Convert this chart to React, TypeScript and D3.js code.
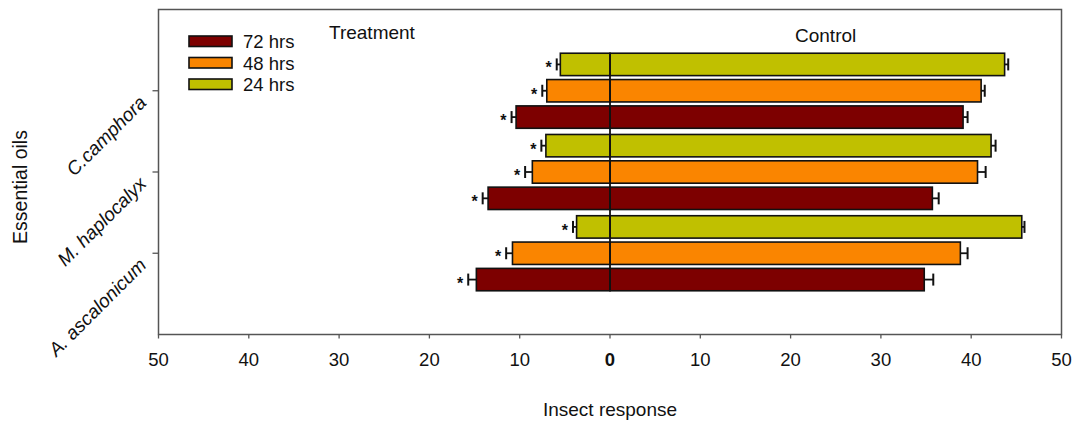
import React from "react";
import * as d3 from "d3";

const width = 1072;
const height = 421;
const margin = { top: 9.5, right: 10.5, bottom: 86.5, left: 158.5 };

// data
const oils = ["A. ascalonicum", "M. haplocalyx", "C.camphora"];
const times = ["24 hrs", "48 hrs", "72 hrs"];
const legendOrder = ["72 hrs", "48 hrs", "24 hrs"];
const colors = ["#c0c000", "#fa8500", "#7d0000"];

// rows follow oils, columns follow times
const controlMean = [
  [45.6, 38.8, 34.8],
  [42.2, 40.7, 35.7],
  [43.7, 41.1, 39.1]
];
const controlErr = [
  [0.3, 0.8, 1.0],
  [0.5, 0.9, 0.7],
  [0.4, 0.4, 0.5]
];
const treatMean = [
  [3.7, 10.8, 14.8],
  [7.1, 8.6, 13.5],
  [5.5, 7.0, 10.4]
];
const treatErr = [
  [0.4, 0.7, 0.9],
  [0.5, 0.8, 0.6],
  [0.4, 0.5, 0.5]
];
const xTicks = [-50, -40, -30, -20, -10, 0, 10, 20, 30, 40, 50];

const font = "Arial, 'Liberation Sans', sans-serif";

export default function App() {
  const x = d3
    .scaleLinear()
    .domain([-50, 50])
    .range([margin.left, width - margin.right]);
  const y = d3
    .scaleLinear()
    .domain([0, 4])
    .range([height - margin.bottom, margin.top]);
  const inner = d3
    .scaleBand()
    .domain(times)
    .range([-39.5, 39.5])
    .paddingInner(0.15)
    .paddingOuter(0.075);
  const bw = inner.bandwidth();

  const bars = [];
  oils.forEach((oil, i) => {
    times.forEach((t, j) => {
      const y0 = y(i + 1) + inner(t);
      const cy = y0 + bw / 2;
      const cEnd = x(controlMean[i][j]);
      const cErr = x(controlMean[i][j] + controlErr[i][j]);
      const tEnd = x(-treatMean[i][j]);
      const tErr = x(-treatMean[i][j] - treatErr[i][j]);
      bars.push(
        <g key={oil + t}>
          <rect x={x(0)} y={y0} width={cEnd - x(0)} height={bw} fill={colors[j]} stroke="#111" strokeWidth={1.6} />
          <rect x={tEnd} y={y0} width={x(0) - tEnd} height={bw} fill={colors[j]} stroke="#111" strokeWidth={1.6} />
          <line x1={cEnd} x2={cErr} y1={cy} y2={cy} stroke="#111" strokeWidth={1.8} />
          <line x1={cErr} x2={cErr} y1={cy - 6} y2={cy + 6} stroke="#111" strokeWidth={2} />
          <line x1={tEnd} x2={tErr} y1={cy} y2={cy} stroke="#111" strokeWidth={1.8} />
          <line x1={tErr} x2={tErr} y1={cy - 6} y2={cy + 6} stroke="#111" strokeWidth={2} />
          <text x={tErr - 5} y={cy + 9} textAnchor="end" fontSize={16} fontWeight="bold" fontFamily={font} fill="#111">*</text>
        </g>
      );
    });
  });

  const zeroTop = y(3) + inner("24 hrs");
  const zeroBottom = y(1) + inner("72 hrs") + bw;

  return (
    <svg width={width} height={height} style={{ position: "absolute", left: 0, top: 0, background: "#fff" }} fontFamily={font}>
      {bars}
      <line x1={x(0)} x2={x(0)} y1={zeroTop} y2={zeroBottom} stroke="#111" strokeWidth={1.8} />

      {/* frame */}
      <rect
        x={margin.left}
        y={margin.top}
        width={width - margin.left - margin.right}
        height={height - margin.top - margin.bottom}
        fill="none"
        stroke="#555"
        strokeWidth={1.5}
      />

      {/* x axis */}
      {xTicks.map((v) => (
        <g key={v}>
          <line x1={x(v)} x2={x(v)} y1={y(0)} y2={y(0) + 4} stroke="#555" strokeWidth={1.3} />
          <text
            x={x(v)}
            y={366}
            textAnchor="middle"
            fontSize={18.5}
            fontWeight={v === 0 ? "bold" : "normal"}
            fill="#111"
          >
            {Math.abs(v)}
          </text>
        </g>
      ))}
      <text x={x(0)} y={416} textAnchor="middle" fontSize={19} fill="#111">Insect response</text>

      {/* y axis */}
      {oils.map((oil, i) => (
        <g key={oil}>
          <line x1={margin.left - 6} x2={margin.left} y1={y(i + 1)} y2={y(i + 1)} stroke="#555" strokeWidth={1.3} />
          <text
            transform={`translate(${margin.left - 11},${y(i + 1) + 13}) rotate(-45)`}
            textAnchor="end"
            fontSize={19}
            fontStyle="italic"
            fill="#111"
          >
            {oil}
          </text>
        </g>
      ))}
      <text transform={`translate(27,187) rotate(-90)`} textAnchor="middle" fontSize={19.5} fill="#111">Essential oils</text>

      <text x={329} y={39.3} fontSize={19} fill="#111">Treatment</text>
      <text x={795} y={41.7} fontSize={19} fill="#111">Control</text>

      {/* legend */}
      {legendOrder.map((t, k) => {
        const ly = 36 + k * 21.5;
        return (
          <g key={t}>
            <rect x={189} y={ly} width={43} height={10.5} fill={colors[times.indexOf(t)]} stroke="#111" strokeWidth={1.6} />
            <text x={243} y={ly + 12.3} fontSize={18.5} fill="#111">{t}</text>
          </g>
        );
      })}
    </svg>
  );
}
